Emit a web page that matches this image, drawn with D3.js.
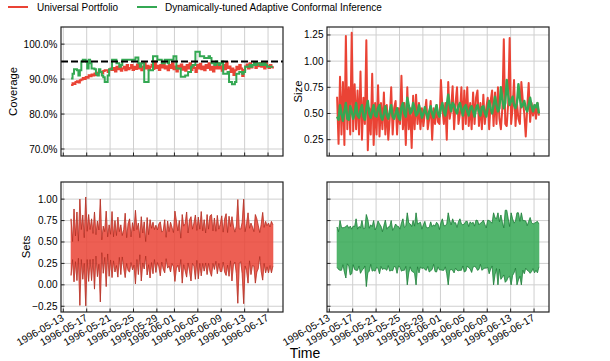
<!DOCTYPE html>
<html>
<head>
<meta charset="utf-8">
<script src="https://cdn.jsdelivr.net/npm/d3@7"></script>
<style>
body { margin: 0; background: #fff; }
text { font-family: 'Liberation Sans', Arial, Helvetica, sans-serif; fill: #000; }
</style>
</head>
<body>
<div id="chart"></div>
<script>
// series sampled every 6 hours starting 1996-05-14 08:00
var startTime = '1996-05-14T08:00';
var stepHours = 6;

var methods = ['Universal Portfolio', 'Dynamically-tuned Adaptive Conformal Inference'];
var tickLabels = ['1996-05-13', '1996-05-17', '1996-05-21', '1996-05-25', '1996-05-29',
	'1996-06-01', '1996-06-05', '1996-06-09', '1996-06-13', '1996-06-17'];
var coverageTicks = [0.7, 0.8, 0.9, 1.0];
var sizeTicks = [0.25, 0.5, 0.75, 1.0, 1.25];
var setsTicks = [-0.25, 0, 0.25, 0.5, 0.75, 1.0];
var targetCoverage = 0.95;

// coverage - Universal Portfolio
var covUP = [
	0.883, 0.888, 0.886, 0.892, 0.894, 0.890, 0.897, 0.899, 0.903, 0.900, 0.906, 0.904,
	0.911, 0.908, 0.913, 0.910, 0.916, 0.912, 0.918, 0.920, 0.921, 0.917, 0.923, 0.925,
	0.925, 0.920, 0.927, 0.930, 0.926, 0.932, 0.922, 0.935, 0.928, 0.938, 0.924, 0.930,
	0.935, 0.925, 0.940, 0.928, 0.932, 0.940, 0.926, 0.935, 0.929, 0.942, 0.930, 0.937,
	0.925, 0.935, 0.945, 0.930, 0.938, 0.926, 0.935, 0.941, 0.929, 0.950, 0.932, 0.938,
	0.926, 0.940, 0.933, 0.945, 0.930, 0.937, 0.925, 0.940, 0.932, 0.945, 0.928, 0.936,
	0.922, 0.938, 0.930, 0.942, 0.927, 0.935, 0.924, 0.940, 0.930, 0.945, 0.926, 0.938,
	0.932, 0.920, 0.940, 0.930, 0.944, 0.928, 0.936, 0.925, 0.940, 0.932, 0.945, 0.927,
	0.935, 0.922, 0.940, 0.930, 0.946, 0.930, 0.937, 0.924, 0.940, 0.928, 0.948, 0.932,
	0.936, 0.920, 0.930, 0.912, 0.925, 0.935, 0.928, 0.940, 0.930, 0.909, 0.926, 0.936,
	0.942, 0.930, 0.945, 0.933, 0.940, 0.948, 0.932, 0.944, 0.937, 0.946, 0.935, 0.942,
	0.930, 0.945, 0.938, 0.932, 0.940, 0.934, 0.930
];
// coverage - DtACI
var covDT = [
	0.902, 0.915, 0.928, 0.928, 0.925, 0.910, 0.925, 0.950, 0.955, 0.955, 0.950, 0.930,
	0.955, 0.945, 0.930, 0.930, 0.928, 0.915, 0.910, 0.928, 0.920, 0.910, 0.905, 0.892,
	0.892, 0.910, 0.928, 0.928, 0.955, 0.955, 0.955, 0.945, 0.945, 0.935, 0.940, 0.955,
	0.955, 0.955, 0.955, 0.955, 0.955, 0.955, 0.955, 0.955, 0.962, 0.962, 0.945, 0.935,
	0.945, 0.945, 0.892, 0.892, 0.892, 0.925, 0.925, 0.925, 0.965, 0.965, 0.965, 0.955,
	0.955, 0.955, 0.945, 0.945, 0.955, 0.955, 0.945, 0.955, 0.955, 0.955, 0.965, 0.965,
	0.930, 0.930, 0.930, 0.907, 0.907, 0.907, 0.910, 0.910, 0.920, 0.920, 0.935, 0.940,
	0.940, 0.978, 0.978, 0.978, 0.965, 0.965, 0.965, 0.960, 0.960, 0.960, 0.965, 0.960,
	0.945, 0.945, 0.940, 0.950, 0.945, 0.940, 0.945, 0.950, 0.915, 0.915, 0.915, 0.920,
	0.892, 0.892, 0.885, 0.885, 0.892, 0.915, 0.915, 0.920, 0.920, 0.915, 0.920, 0.935,
	0.935, 0.935, 0.940, 0.935, 0.940, 0.945, 0.940, 0.945, 0.945, 0.940, 0.945, 0.940,
	0.945, 0.940, 0.935, 0.935, 0.935, 0.935, 0.935
];
// set size - Universal Portfolio
var sizeUP = [
	0.66, 0.21, 0.85, 0.30, 0.80, 0.20, 1.24, 0.35, 0.75, 0.30, 1.27, 0.33,
	0.78, 0.35, 0.72, 0.30, 0.90, 0.25, 0.65, 0.40, 1.20, 0.15, 0.55, 0.30,
	0.88, 0.20, 0.60, 0.30, 0.77, 0.28, 0.60, 0.35, 0.70, 0.30, 0.58, 0.25,
	0.45, 0.75, 0.30, 0.55, 0.62, 0.30, 0.55, 0.40, 0.86, 0.35, 0.60, 0.20,
	0.75, 0.35, 0.55, 0.17, 0.67, 0.35, 0.68, 0.40, 0.60, 0.35, 0.55, 0.38,
	0.50, 0.63, 0.35, 0.45, 0.62, 0.25, 0.55, 0.40, 0.58, 0.42, 0.40, 0.82,
	0.55, 0.40, 0.60, 0.25, 0.80, 0.45, 0.55, 0.76, 0.35, 0.60, 0.75, 0.40,
	0.50, 0.75, 0.35, 0.72, 0.40, 0.75, 0.38, 0.60, 0.35, 0.70, 0.40, 0.65,
	0.72, 0.38, 0.60, 0.35, 0.68, 0.40, 0.55, 0.65, 0.35, 0.62, 0.72, 0.38,
	0.70, 0.40, 0.75, 0.45, 0.35, 0.55, 1.21, 0.40, 0.38, 0.60, 1.22, 0.40,
	0.55, 0.82, 0.38, 0.60, 0.45, 0.40, 0.80, 0.62, 0.50, 0.28, 0.55, 0.79,
	0.42, 0.60, 0.48, 0.58, 0.45, 0.60, 0.48
];
// set size - DtACI
var sizeDT = [
	0.47, 0.44, 0.58, 0.50, 0.43, 0.52, 0.60, 0.45, 0.44, 0.57, 0.52, 0.45,
	0.50, 0.60, 0.48, 0.46, 0.53, 0.58, 0.47, 0.44, 0.55, 0.62, 0.50, 0.46,
	0.52, 0.58, 0.48, 0.47, 0.55, 0.58, 0.47, 0.44, 0.50, 0.57, 0.48, 0.45,
	0.52, 0.58, 0.47, 0.45, 0.50, 0.55, 0.46, 0.44, 0.56, 0.60, 0.50, 0.47,
	0.65, 0.58, 0.50, 0.52, 0.60, 0.55, 0.48, 0.50, 0.58, 0.52, 0.46, 0.50,
	0.56, 0.50, 0.45, 0.52, 0.57, 0.50, 0.46, 0.53, 0.58, 0.50, 0.47, 0.55,
	0.60, 0.52, 0.48, 0.58, 0.68, 0.58, 0.52, 0.60, 0.58, 0.53, 0.50, 0.57,
	0.60, 0.54, 0.48, 0.56, 0.58, 0.52, 0.48, 0.55, 0.57, 0.52, 0.47, 0.55,
	0.58, 0.52, 0.48, 0.56, 0.57, 0.51, 0.47, 0.55, 0.62, 0.55, 0.50, 0.58,
	0.66, 0.58, 0.52, 0.55, 0.75, 0.64, 0.55, 0.60, 0.82, 0.68, 0.58, 0.62,
	0.66, 0.58, 0.55, 0.60, 0.78, 0.64, 0.56, 0.58, 0.62, 0.55, 0.52, 0.58,
	0.65, 0.57, 0.52, 0.58, 0.56, 0.60, 0.50
];
// centre of the prediction sets
var center = [
	0.44, 0.40, 0.46, 0.42, 0.45, 0.41, 0.38, 0.47, 0.44, 0.40, 0.39, 0.46,
	0.43, 0.47, 0.41, 0.45, 0.40, 0.46, 0.42, 0.44, 0.40, 0.45, 0.41, 0.47,
	0.42, 0.46, 0.40, 0.44, 0.47, 0.42, 0.45, 0.40, 0.44, 0.47, 0.41, 0.45,
	0.42, 0.46, 0.40, 0.44, 0.46, 0.41, 0.45, 0.43, 0.44, 0.47, 0.42, 0.45,
	0.42, 0.43, 0.46, 0.42, 0.45, 0.41, 0.42, 0.46, 0.43, 0.47, 0.42, 0.45,
	0.46, 0.42, 0.44, 0.41, 0.45, 0.43, 0.47, 0.42, 0.44, 0.46, 0.41, 0.45,
	0.47, 0.43, 0.45, 0.42, 0.42, 0.46, 0.44, 0.47, 0.43, 0.46, 0.42, 0.45,
	0.47, 0.44, 0.46, 0.43, 0.45, 0.48, 0.44, 0.46, 0.43, 0.47, 0.45, 0.48,
	0.46, 0.44, 0.48, 0.45, 0.47, 0.45, 0.43, 0.48, 0.44, 0.46, 0.47, 0.42,
	0.45, 0.48, 0.42, 0.46, 0.44, 0.41, 0.39, 0.45, 0.46, 0.43, 0.39, 0.42,
	0.44, 0.43, 0.47, 0.42, 0.45, 0.42, 0.42, 0.46, 0.44, 0.47, 0.43, 0.45,
	0.46, 0.44, 0.45, 0.43, 0.45, 0.44, 0.46
];
// width of the DtACI sets
var widthDT = [
	0.47, 0.44, 0.58, 0.50, 0.43, 0.52, 0.60, 0.45, 0.44, 0.57, 0.52, 0.45,
	0.50, 0.60, 0.48, 0.46, 0.53, 0.58, 0.47, 0.44, 0.84, 0.62, 0.50, 0.46,
	0.52, 0.58, 0.48, 0.47, 0.55, 0.58, 0.47, 0.44, 0.50, 0.57, 0.48, 0.45,
	0.52, 0.58, 0.47, 0.45, 0.50, 0.55, 0.46, 0.44, 0.56, 0.60, 0.50, 0.47,
	0.84, 0.58, 0.50, 0.52, 0.60, 0.55, 0.84, 0.50, 0.58, 0.52, 0.46, 0.50,
	0.56, 0.50, 0.45, 0.52, 0.57, 0.50, 0.46, 0.53, 0.58, 0.50, 0.47, 0.55,
	0.60, 0.52, 0.48, 0.58, 0.84, 0.58, 0.52, 0.60, 0.58, 0.53, 0.50, 0.57,
	0.60, 0.54, 0.48, 0.56, 0.58, 0.52, 0.48, 0.55, 0.57, 0.52, 0.47, 0.55,
	0.58, 0.52, 0.48, 0.56, 0.57, 0.51, 0.47, 0.55, 0.62, 0.55, 0.50, 0.84,
	0.66, 0.58, 0.84, 0.55, 0.75, 0.64, 0.55, 0.84, 0.82, 0.68, 0.58, 0.84,
	0.66, 0.58, 0.55, 0.84, 0.78, 0.64, 0.84, 0.58, 0.62, 0.55, 0.52, 0.58,
	0.65, 0.57, 0.52, 0.58, 0.56, 0.60, 0.50
];

var red = '#EA4335', green = '#34A853';
var redDark = '#9e2a1f', greenDark = '#1a6e33';

var width = 610, height = 361;
var svg = d3.select('#chart').append('svg')
	.attr('width', width)
	.attr('height', height);

var t0 = d3.utcParse('%Y-%m-%dT%H:%M')(startTime);
var times = covUP.map(function(d, i){
	return d3.utcHour.offset(t0, i * stepHours);
});
var tickDates = tickLabels.map(d3.utcParse('%Y-%m-%d'));
var span = times[times.length - 1] - times[0];
var xDomain = [new Date(+times[0] - span * 0.05), new Date(+times[times.length - 1] + span * 0.05)];

var sizeAll = sizeUP.concat(sizeDT);
var sMin = d3.min(sizeAll), sMax = d3.max(sizeAll), sPad = (sMax - sMin) * 0.05;

// panel boxes
var panels = {
	cov: {left: 61, top: 27, w: 222, h: 129},
	size: {left: 327, top: 27, w: 222, h: 129},
	setsUP: {left: 61, top: 182, w: 222, h: 130},
	setsDT: {left: 327, top: 182, w: 222, h: 130}
};

function makePanel(p, yDomain, yTicks, yFmt, showXLabels){
	var g = svg.append('g').attr('transform', 'translate(' + p.left + ',' + p.top + ')');
	var x = d3.scaleUtc().domain(xDomain).range([0, p.w]);
	var y = d3.scaleLinear().domain(yDomain).range([p.h, 0]);

	// grid
	g.append('g').selectAll('line').data(tickDates).enter().append('line')
		.attr('x1', function(d){ return x(d); }).attr('x2', function(d){ return x(d); })
		.attr('y1', 0).attr('y2', p.h)
		.attr('stroke', '#cfcfcf').attr('stroke-width', 1);
	g.append('g').selectAll('line').data(yTicks).enter().append('line')
		.attr('x1', 0).attr('x2', p.w)
		.attr('y1', function(d){ return y(d); }).attr('y2', function(d){ return y(d); })
		.attr('stroke', '#cfcfcf').attr('stroke-width', 1);

	var data = g.append('g');
	var front = g.append('g');

	// frame and inward ticks
	front.append('rect').attr('width', p.w).attr('height', p.h)
		.attr('fill', 'none').attr('stroke', '#222').attr('stroke-width', 1.2);
	front.append('g').selectAll('line').data(tickDates).enter().append('line')
		.attr('x1', function(d){ return x(d); }).attr('x2', function(d){ return x(d); })
		.attr('y1', p.h).attr('y2', p.h - 3.5)
		.attr('stroke', '#222');
	front.append('g').selectAll('line').data(yTicks).enter().append('line')
		.attr('x1', 0).attr('x2', 3.5)
		.attr('y1', function(d){ return y(d); }).attr('y2', function(d){ return y(d); })
		.attr('stroke', '#222');

	if (yFmt) {
		front.append('g').selectAll('text').data(yTicks).enter().append('text')
			.attr('x', -3.5).attr('y', function(d){ return y(d); })
			.attr('dy', '0.35em')
			.attr('text-anchor', 'end')
			.style('font-size', '10px')
			.text(yFmt);
	}
	if (showXLabels) {
		front.append('g').selectAll('text').data(tickDates).enter().append('text')
			.attr('transform', function(d){
				return 'translate(' + (x(d) + 1.5) + ',' + (p.h + 8) + ') rotate(-30)';
			})
			.attr('text-anchor', 'end')
			.style('font-size', '10.3px')
			.text(function(d, i){ return tickLabels[i]; });
	}
	return {g: data, front: front, x: x, y: y};
}

var pctFmt = d3.format('.1%');
var numFmt = d3.format('.2f');

//coverage
var pc = makePanel(panels.cov, [0.68, 1.049], coverageTicks, pctFmt, false);
var covLine = d3.line()
	.x(function(d, i){ return pc.x(times[i]); })
	.y(function(d){ return pc.y(d); })
	.curve(d3.curveStepAfter);
pc.g.append('path').datum(covUP)
	.attr('d', covLine).attr('fill', 'none').attr('stroke', red).attr('stroke-width', 2);
pc.g.append('path').datum(covDT)
	.attr('d', covLine).attr('fill', 'none').attr('stroke', green).attr('stroke-width', 2);
pc.g.append('line')
	.attr('x1', 0).attr('x2', panels.cov.w)
	.attr('y1', pc.y(targetCoverage)).attr('y2', pc.y(targetCoverage))
	.attr('stroke', '#000').attr('stroke-width', 2).attr('stroke-dasharray', '7,3');

//size
var ps = makePanel(panels.size, [sMin - sPad, sMax + sPad], sizeTicks, numFmt, false);
var sizeLine = d3.line()
	.x(function(d, i){ return ps.x(times[i]); })
	.y(function(d){ return ps.y(d); });
ps.g.append('path').datum(sizeUP)
	.attr('d', sizeLine).attr('fill', 'none').attr('stroke', red).attr('stroke-width', 2)
	.attr('stroke-linejoin', 'round');
ps.g.append('path').datum(sizeDT)
	.attr('d', sizeLine).attr('fill', 'none').attr('stroke', green).attr('stroke-width', 2.4)
	.attr('stroke-linejoin', 'round');

//sets
var setsDomain = [-0.317, 1.2];
function drawBand(pp, widths, col, dark){
	var rows = times.map(function(t, i){
		return {t: t, lo: center[i] - widths[i] / 2, hi: center[i] + widths[i] / 2};
	});
	var area = d3.area()
		.x(function(d){ return pp.x(d.t); })
		.y0(function(d){ return pp.y(d.lo); })
		.y1(function(d){ return pp.y(d.hi); });
	pp.g.append('path').datum(rows)
		.attr('d', area).attr('fill', col).attr('fill-opacity', 0.85)
		.attr('stroke', col).attr('stroke-width', 0.6);
	['lo', 'hi'].forEach(function(k){
		pp.g.append('path').datum(rows)
			.attr('d', d3.line()
				.x(function(d){ return pp.x(d.t); })
				.y(function(d){ return pp.y(d[k]); }))
			.attr('fill', 'none').attr('stroke', dark)
			.attr('stroke-width', 0.7).attr('stroke-opacity', 0.75);
	});
}
var pu = makePanel(panels.setsUP, setsDomain, setsTicks, numFmt, true);
drawBand(pu, sizeUP, red, redDark);
var pd = makePanel(panels.setsDT, setsDomain, setsTicks, null, true);
drawBand(pd, widthDT, green, greenDark);

//axis labels
function yLabel(txt, cx, cy){
	svg.append('text')
		.attr('transform', 'translate(' + cx + ',' + cy + ') rotate(-90)')
		.attr('text-anchor', 'middle')
		.attr('dy', '0.35em')
		.style('font-size', '11.3px')
		.text(txt);
}
yLabel('Coverage', 13, 91.5);
yLabel('Size', 298, 91.5);
yLabel('Sets', 26, 247);

svg.append('text')
	.attr('x', 305).attr('y', 358)
	.attr('text-anchor', 'middle')
	.style('font-size', '14px')
	.text('Time');

//legend
var legend = svg.append('g');
var legendX = [[8, 37], [137, 165]];
[red, green].forEach(function(c, i){
	legend.append('line')
		.attr('x1', legendX[i][0]).attr('x2', legendX[i][0] + 20)
		.attr('y1', 7).attr('y2', 7)
		.attr('stroke', c).attr('stroke-width', 2);
	legend.append('text')
		.attr('x', legendX[i][1]).attr('y', 7)
		.attr('dy', '0.35em')
		.style('font-size', '10px')
		.text(methods[i]);
});
</script>
</body>
</html>
